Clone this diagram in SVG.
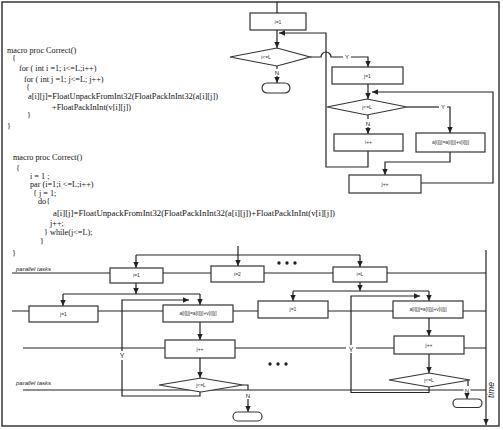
<svg xmlns="http://www.w3.org/2000/svg" width="503" height="430" viewBox="0 0 503 430">
<style>
.code{font-family:"Liberation Serif","Times New Roman",serif;font-size:8.2px;fill:#111}
.lbl{font-family:"Liberation Sans",Arial,sans-serif;font-size:5px;fill:#333;text-anchor:middle}
.yn{font-family:"Liberation Sans",Arial,sans-serif;font-size:6px;fill:#222;text-anchor:middle}
.pt{font-family:"Liberation Sans",Arial,sans-serif;font-size:6px;font-style:italic;fill:#222}
.box{fill:#fff;stroke:#333;stroke-width:1.2}
.ln{fill:none;stroke:#222;stroke-width:1.2}
.lane{fill:none;stroke:#222;stroke-width:1.1}
.arr{marker-end:url(#ah)}
.bg{fill:#fff}
</style>
<defs>
<marker id="ah" viewBox="0 0 10 10" refX="10" refY="5" markerWidth="6" markerHeight="6" markerUnits="userSpaceOnUse" orient="auto">
<path d="M0,0.5 L10,5 L0,9.5 z" fill="#222"/>
</marker>
</defs>
<rect x="2" y="2" width="497" height="424" fill="#fff" stroke="#444" stroke-width="1.6"/>

<g id="code1">
<text class="code" x="7" y="53">macro proc Correct()</text>
<text class="code" x="12" y="61">{</text>
<text class="code" x="19" y="71">for ( int i =1; i&lt;=L;i++)</text>
<text class="code" x="24" y="82">for ( int j =1; j&lt;=L; j++)</text>
<text class="code" x="26" y="90">{</text>
<text class="code" x="28" y="99" textLength="190" lengthAdjust="spacingAndGlyphs">a[i][j]=FloatUnpackFromInt32(FloatPackInInt32(a[i][j])</text>
<text class="code" x="52" y="110" textLength="79" lengthAdjust="spacingAndGlyphs">+FloatPackInInt(v[i][j])</text>
<text class="code" x="27" y="118">}</text>
<text class="code" x="7" y="129">}</text>
</g>

<g id="code2">
<text class="code" x="13" y="160">macro proc Correct()</text>
<text class="code" x="16" y="171">{</text>
<text class="code" x="30" y="179">i = 1 ;</text>
<text class="code" x="30" y="187">par (i=1;i &lt;=L;i++)</text>
<text class="code" x="33" y="196">{ j = 1;</text>
<text class="code" x="38" y="204">do{</text>
<text class="code" x="53" y="216" textLength="282" lengthAdjust="spacingAndGlyphs">a[i][j]=FloatUnpackFromInt32(FloatPackInInt32(a[i][j])+FloatPackInInt(v[i][j])</text>
<text class="code" x="50" y="226">j++;</text>
<text class="code" x="44" y="235">} while(j&lt;=L);</text>
<text class="code" x="40" y="244">}</text>
<text class="code" x="12" y="256">}</text>
</g>

<g id="connectors">
<!-- top flowchart -->
<line class="ln" x1="277" y1="2" x2="277" y2="13"/>
<line class="ln arr" x1="277" y1="30" x2="277" y2="48"/>
<line class="ln" x1="277" y1="66" x2="277" y2="69"/>
<line class="ln arr" x1="277" y1="76" x2="277" y2="83"/>
<path class="ln" d="M310,57 H321 A5,5 0 0 1 331,57 H343"/>
<path class="ln arr" d="M351,57 H368 V67"/>
<line class="ln arr" x1="368" y1="84" x2="368" y2="99"/>
<path class="ln arr" d="M421,183 H493 V92 H372"/>
<path class="ln" d="M407,107 H439"/>
<path class="ln arr" d="M447,107 H450 V133"/>
<path class="ln arr" d="M450,152 V162 H385 V175"/>
<line class="ln" x1="368" y1="115" x2="368" y2="119"/>
<line class="ln arr" x1="368" y1="127" x2="368" y2="134"/>
<path class="ln arr" d="M368,151 V167 H326 V33 H279"/>

<!-- bottom: lanes -->
<path class="lane" d="M12,273 H110 M163,273 H211 M264,273 H333 M387,273 H486"/>
<path class="lane" d="M12,311 H29 M98,311 H163 M233,311 H258 M328,311 H393 M463,311 H486"/>
<path class="lane" d="M23,348 H165 M235,348 H394 M464,348 H486"/>
<path class="lane" d="M23,390 H486"/>
<line class="ln arr" x1="486" y1="250" x2="486" y2="425"/>

<!-- bottom: top distribution -->
<line class="ln arr" x1="238" y1="246" x2="238" y2="266"/>
<line class="ln" x1="136" y1="255" x2="360" y2="255"/>
<line class="ln arr" x1="136" y1="255" x2="136" y2="268"/>
<line class="ln arr" x1="360" y1="255" x2="360" y2="267"/>

<!-- left task -->
<line class="ln arr" x1="136" y1="283" x2="136" y2="294"/>
<line class="ln" x1="63" y1="294" x2="200" y2="294"/>
<line class="ln arr" x1="63" y1="294" x2="63" y2="306"/>
<line class="ln arr" x1="200" y1="294" x2="200" y2="305"/>
<path class="ln arr" d="M200,392 V396 H122 V300 H189"/>
<line class="ln arr" x1="200" y1="322" x2="200" y2="340"/>
<line class="ln arr" x1="200" y1="358" x2="200" y2="378"/>
<path class="ln" d="M243,385 H248 V390"/>
<line class="ln arr" x1="248" y1="399" x2="248" y2="412"/>

<!-- right task -->
<line class="ln arr" x1="360" y1="282" x2="360" y2="291"/>
<line class="ln" x1="293" y1="291" x2="429" y2="291"/>
<line class="ln arr" x1="293" y1="291" x2="293" y2="301"/>
<line class="ln arr" x1="429" y1="291" x2="429" y2="301"/>
<path class="ln arr" d="M429,387 V392.5 H351 V296 H420"/>
<line class="ln arr" x1="429" y1="318" x2="429" y2="336"/>
<line class="ln arr" x1="429" y1="354" x2="429" y2="373"/>
<path class="ln" d="M468,380 V386"/>
<line class="ln arr" x1="467" y1="393" x2="467" y2="399"/>

<!-- labels on connectors -->
<text class="yn" x="277" y="75">N</text>
<text class="yn" x="347" y="59">Y</text>
<text class="yn" x="443" y="109">Y</text>
<text class="yn" x="368" y="126">N</text>
<rect class="bg" x="118" y="351" width="8" height="9"/>
<text class="yn" x="122" y="358" style="font-size:7px">Y</text>
<rect class="bg" x="346" y="345" width="10" height="8"/>
<text class="yn" x="351" y="351.5" style="font-size:7px">Y</text>
<rect class="bg" x="245" y="391" width="7" height="7"/>
<text class="yn" x="248" y="397.5">N</text>
<rect class="bg" x="463.5" y="386.5" width="7" height="6.5"/>
<text class="yn" x="467" y="392.5">N</text>
</g>

<g id="top-i1"><rect class="box" x="250" y="13" width="56" height="17"/><text class="lbl" x="278" y="23.5">i=1</text></g>
<g id="top-cond-i"><polygon class="box" points="230,57 277,48 310,57 277,66"/><text class="lbl" x="266" y="59">i&lt;=L</text></g>
<g id="top-end"><rect class="box" x="262" y="83" width="28" height="10" rx="5"/></g>
<g id="top-j1"><rect class="box" x="332" y="67" width="71" height="17"/><text class="lbl" x="367.5" y="77.5">j=1</text></g>
<g id="top-cond-j"><polygon class="box" points="327,107 367,99 407,107 367,115"/><text class="lbl" x="367" y="109">j&lt;=L</text></g>
<g id="top-assign"><rect class="box" x="416" y="133" width="69" height="19"/><text class="lbl" x="450.5" y="144">a[i][j]=a[i][j]+v[i][j]</text></g>
<g id="top-iinc"><rect class="box" x="334" y="134" width="69" height="17"/><text class="lbl" x="368.5" y="144">i++</text></g>
<g id="top-jinc"><rect class="box" x="349" y="175" width="72" height="18"/><text class="lbl" x="385" y="185.5">j++</text></g>

<g id="par-i1"><rect class="box" x="110" y="268" width="53" height="15"/><text class="lbl" x="136.5" y="277">i=1</text></g>
<g id="par-i2"><rect class="box" x="211" y="266" width="53" height="16"/><text class="lbl" x="237.5" y="275.5">i=2</text></g>
<g id="par-iL"><rect class="box" x="333" y="267" width="54" height="15"/><text class="lbl" x="360" y="276">i=L</text></g>
<g id="dots-top"><circle cx="279" cy="263" r="1.7" fill="#222"/><circle cx="287" cy="263" r="1.7" fill="#222"/><circle cx="295" cy="263" r="1.7" fill="#222"/></g>
<g id="dots-bottom"><circle cx="270" cy="364" r="1.7" fill="#222"/><circle cx="278" cy="364" r="1.7" fill="#222"/><circle cx="286" cy="364" r="1.7" fill="#222"/></g>

<g id="L-j1"><rect class="box" x="29" y="306" width="69" height="16"/><text class="lbl" x="63.5" y="315.5">j=1</text></g>
<g id="L-assign"><rect class="box" x="163" y="305" width="70" height="17"/><text class="lbl" x="198" y="315">a[i][j]=a[i][j]+v[i][j]</text></g>
<g id="L-jinc"><rect class="box" x="165" y="340" width="70" height="18"/><text class="lbl" x="200" y="350.5">j++</text></g>
<g id="L-cond"><polygon class="box" points="159,385 201,378 243,385 201,392"/><text class="lbl" x="201" y="387">j&lt;=L</text></g>
<g id="L-end"><rect class="box" x="233" y="412" width="29" height="9" rx="4.5"/></g>

<g id="R-j1"><rect class="box" x="258" y="301" width="70" height="17"/><text class="lbl" x="293" y="311">j=1</text></g>
<g id="R-assign"><rect class="box" x="393" y="301" width="70" height="17"/><text class="lbl" x="428" y="311">a[i][j]=a[i][j]+v[i][j]</text></g>
<g id="R-jinc"><rect class="box" x="394" y="336" width="70" height="18"/><text class="lbl" x="429" y="346.5">j++</text></g>
<g id="R-cond"><polygon class="box" points="389,380 429,373 470,380 429,387"/><text class="lbl" x="429" y="382">j&lt;=L</text></g>
<g id="R-end"><rect class="box" x="453" y="399" width="29" height="8.5" rx="4.2"/></g>

<g id="annotations">
<text class="pt" x="16" y="271">parallel tasks</text>
<text class="pt" x="16" y="385">parallel tasks</text>
<text class="pt" x="0" y="0" transform="translate(494,398) rotate(-90)" style="font-size:8.5px">time</text>
</g>
</svg>
